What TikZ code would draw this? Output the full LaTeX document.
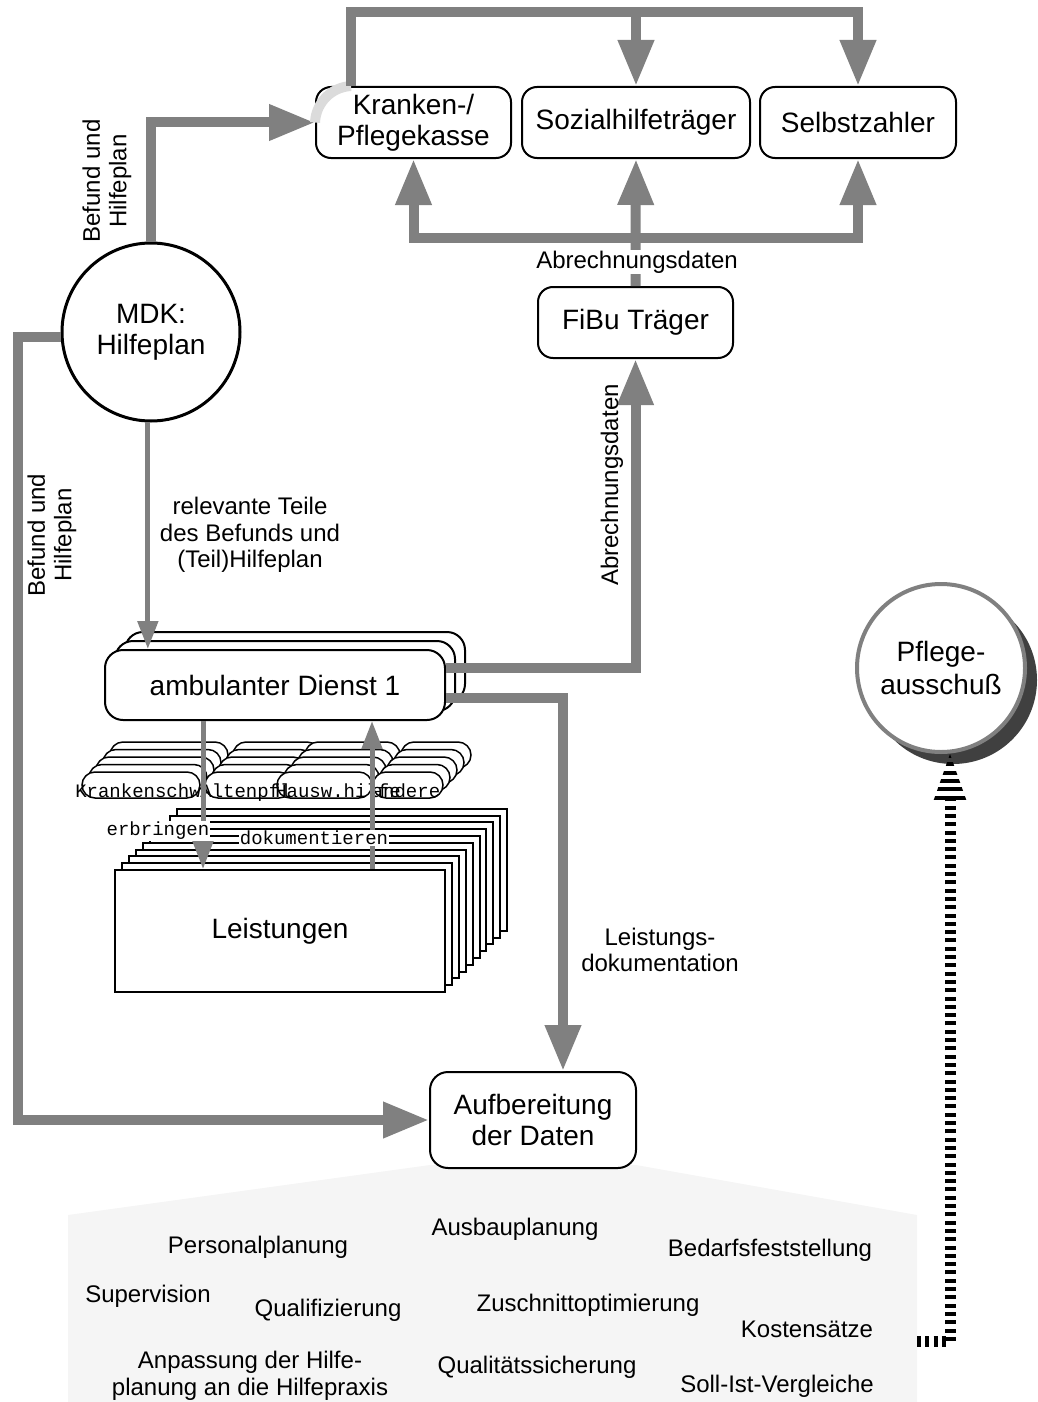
\documentclass[tikz,border=0pt]{standalone}
\usepackage{fontspec}
\setmainfont{Liberation Sans}
\setmonofont{Liberation Mono}
\usetikzlibrary{arrows.meta,calc}

\begin{document}
\begin{tikzpicture}[x=1pt, y=-1pt,
  box/.style={draw, line width=2pt, rounded corners=15pt, fill=white, align=center,
    inner sep=0pt, font=\fontsize{28}{31}\selectfont},
  lab/.style={align=center, inner sep=1pt, font=\fontsize{24}{26.5}\selectfont},
  mono/.style={inner sep=1pt, font=\ttfamily\fontsize{19}{20}\selectfont},
  pfeil/.style={draw=gray, line width=10pt, -{Triangle[length=46pt,width=34pt]}},
  tpfeil/.style={draw=gray, line width=5pt, -{Triangle[length=28pt,width=20pt]}},
  strich/.style={line width=11pt, dash pattern=on 4pt off 4.3pt}]

\useasboundingbox (0,0) rectangle (1038,1402);

% grauer Bereich unten
\fill[black!4] (68,1215) -- (430,1165) -- (636,1165) -- (917,1215) -- (917,1402) -- (68,1402) -- cycle;

% Kassen oben
\node[box, minimum width=195pt, minimum height=71pt] (kk) at (413.5,122.5) {Kranken-/\\Pflegekasse};
\node[box, minimum width=228pt, minimum height=71pt] (soz) at (636,122.5) {Sozialhilfeträger};
\node[box, minimum width=196pt, minimum height=71pt] (sz) at (858,122.5) {Selbstzahler};
\node[box, minimum width=195pt, minimum height=71pt] (fibu) at (635.5,322.5) {FiBu Träger};

% MDK
\node[draw, circle, line width=3pt, fill=white, minimum size=178pt, align=center,
  inner sep=0pt, font=\fontsize{28}{31}\selectfont] (mdk) at (151,332) {MDK:\\Hilfeplan};

% ambulante Dienste (Stapel)
\foreach \i in {2,1}
  \draw[line width=2pt, fill=white, rounded corners=18pt] (105+\i*10,650-\i*9) rectangle ++(340,70);
\node[box, rounded corners=18pt, minimum width=340pt, minimum height=70pt] (amb) at (275,685) {ambulanter Dienst 1};

% Mitarbeiter
\foreach \x/\w in {82/118, 205/87, 277/95, 373/70}
  \foreach \i in {4,...,0}
    \draw[line width=1.5pt, fill=white, rounded corners=13pt] (\x+\i*7,772-\i*7.5) rectangle ++(\w,26);
\node[mono, anchor=base] (ksw) at (138,797) {Krankenschw};
\node[mono, anchor=base] (apf) at (246,797) {Altenpfl};
\node[mono, anchor=base] (hwh) at (338,797) {Hausw.hilfe};
\node[mono, anchor=base] (and) at (406,797) {andere};

% Leistungen (Stapel)
\foreach \i in {9,...,1}
  \draw[line width=2pt, fill=white] (115+\i*6.9,870-\i*6.8) rectangle ++(330,122);
\node[draw, line width=2pt, fill=white, minimum width=330pt, minimum height=122pt,
  font=\fontsize{28}{31}\selectfont] (leist) at (280,931) {Leistungen};

% Aufbereitung
\node[box, rounded corners=18pt, minimum width=206pt, minimum height=96pt] (auf) at (533,1120) {Aufbereitung\\der Daten};

% Pflegeausschuss
\fill[black!75] (953,680) circle (84pt);
\node[draw=gray, circle, line width=4pt, fill=white, minimum size=168pt, align=center,
  inner sep=0pt, font=\fontsize{28}{33}\selectfont] (pfl) at (941,668) {Pflege-\\ausschuß};

% Pfeile MDK
\draw[pfeil] (mdk.north) |- (kk.west);
\draw[line width=10pt, black!14] (kk.west) .. controls (316,102) and (332,87) .. ($(kk.north west)+(36,0)$);
\draw[pfeil] ($(kk.north west)+(36,0)$) -- ++(0,-74) coordinate (oben) -| (sz.north);
\draw[pfeil] (oben -| soz.north) -- (soz.north);
\draw[pfeil] (mdk.183) -| (auf.west -| 18,0) -- (auf.west);
\draw[tpfeil] (mdk.268) -- (mdk.268 |- amb.north);

% Abrechnung
\coordinate (bus) at (fibu.north |- 0,238);
\draw[pfeil] (fibu.north) -- (bus) -- (soz.south);
\draw[pfeil] (bus) -| (kk.south);
\draw[pfeil] (bus) -| (sz.south);
\draw[pfeil] ($(amb.east)+(0,-17)$) -| (fibu.south);
\draw[pfeil] ($(amb.east)+(0,13)$) -| ($(auf.north)+(30,0)$);

% erbringen / dokumentieren
\draw[tpfeil] (amb.south -| 203,0) -- (leist.north -| 203,0);
\draw[tpfeil] (leist.north -| 372,0) -- (amb.south -| 372,0);
\node[mono, fill=white] (erb) at (158,831) {erbringen};
\node[mono, fill=white] (dok) at (314,838) {dokumentieren};

% Beschriftungen
\node[lab, fill=white] (abr) at (637,262) {Abrechnungsdaten};
\node[lab, rotate=90] (abr2) at (612,485) {Abrechnungsdaten};
\node[lab, rotate=90] (bh1) at (107,181) {Befund und\\Hilfeplan};
\node[lab, rotate=90] (bh2) at (52,535) {Befund und\\Hilfeplan};
\node[lab] (rel) at (250,535) {relevante Teile\\des Befunds und\\(Teil)Hilfeplan};
\node[lab] (ldok) at (660,950) {Leistungs-\\dokumentation};

% Auswertungen
\node[lab] (pp) at (258,1247) {Personalplanung};
\node[lab] (ap) at (515,1229) {Ausbauplanung};
\node[lab] (bf) at (770,1250) {Bedarfsfeststellung};
\node[lab] (sv) at (148,1296) {Supervision};
\node[lab] (qf) at (328,1310) {Qualifizierung};
\node[lab] (zo) at (588,1305) {Zuschnittoptimierung};
\node[lab] (kos) at (807,1329) {Kostensätze};
\node[lab] (ah) at (250,1376) {Anpassung der Hilfe-\\planung an die Hilfepraxis};
\node[lab] (qs) at (537,1367) {Qualitätssicherung};
\node[lab] (si) at (777,1386) {Soll-Ist-Vergleiche};

% Rueckmeldung an den Pflegeausschuss
\coordinate (grau) at (917,1341);
\coordinate (pin) at ($(pfl.south)+(9,0)$);
\draw[strich] (grau) -| ($(pin)+(0,46)$);
\begin{scope}
  \clip (pin) -- ++(-17,48) -- ++(34,0) -- cycle;
  \draw[line width=40pt, dash pattern=on 4pt off 4.3pt] (pin) -- ++(0,48);
\end{scope}

\end{tikzpicture}
\end{document}
